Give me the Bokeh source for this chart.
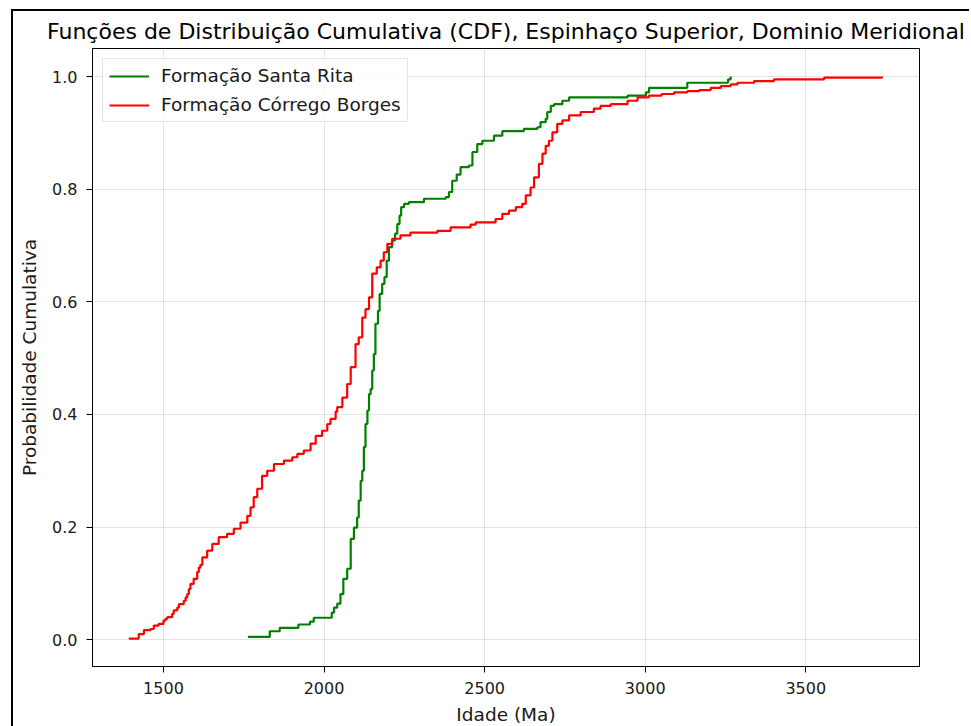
from bokeh.plotting import figure
from bokeh.models import Range1d, FixedTicker, PrintfTickFormatter
from bokeh.embed import file_html
from bokeh.resources import INLINE

title_text = "Funções de Distribuição Cumulativa (CDF), Espinhaço Superior, Dominio Meridional"
x_label = "Idade (Ma)"
y_label = "Probabilidade Cumulativa"
x_ticks = [1500, 2000, 2500, 3000, 3500]
y_ticks = [0.0, 0.2, 0.4, 0.6, 0.8, 1.0]

label_sr = "Formação Santa Rita"
ages_sr = [1763, 1831, 1862, 1920, 1956, 1968, 2024, 2031, 2041, 2051,
           2060, 2072, 2083, 2093, 2103, 2108, 2114, 2119, 2124, 2129,
           2135, 2140, 2145, 2150, 2155, 2160, 2168, 2173, 2181, 2188,
           2195, 2202, 2212, 2221, 2228, 2235, 2240, 2249, 2264, 2311,
           2379, 2389, 2399, 2413, 2425, 2451, 2462, 2477, 2493, 2529,
           2555, 2622, 2664, 2674, 2690, 2695, 2706, 2716, 2742, 2763,
           2945, 3002, 3012, 3131, 3258, 3266]
cdf_sr = [0.005, 0.015, 0.021, 0.027, 0.032, 0.039, 0.048, 0.057, 0.064, 0.081,
          0.108, 0.126, 0.179, 0.199, 0.217, 0.247, 0.282, 0.300, 0.342, 0.383,
          0.407, 0.436, 0.445, 0.478, 0.507, 0.561, 0.584, 0.614, 0.632, 0.644,
          0.673, 0.697, 0.709, 0.721, 0.738, 0.753, 0.768, 0.774, 0.777, 0.783,
          0.786, 0.795, 0.815, 0.826, 0.839, 0.842, 0.866, 0.880, 0.886, 0.895,
          0.903, 0.907, 0.910, 0.919, 0.925, 0.937, 0.948, 0.951, 0.957, 0.963,
          0.966, 0.972, 0.980, 0.989, 0.995, 1.0]

label_cb = "Formação Córrego Borges"
ages_cb = [1392, 1423, 1439, 1460, 1470, 1485, 1500, 1506, 1512, 1527,
           1532, 1543, 1548, 1563, 1569, 1574, 1579, 1584, 1594, 1605,
           1610, 1615, 1621, 1636, 1652, 1672, 1698, 1719, 1740, 1761,
           1771, 1781, 1792, 1807, 1823, 1844, 1875, 1901, 1917, 1937,
           1958, 1974, 1994, 2010, 2020, 2036, 2041, 2057, 2072, 2083,
           2098, 2108, 2119, 2129, 2140, 2150, 2164, 2176, 2186, 2197,
           2212, 2238, 2269, 2353, 2394, 2456, 2472, 2534, 2555, 2576,
           2597, 2617, 2628, 2643, 2654, 2669, 2680, 2690, 2700, 2711,
           2726, 2742, 2763, 2799, 2840, 2861, 2893, 2945, 2976, 3011,
           3051, 3090, 3131, 3168, 3204, 3235, 3266, 3287, 3339, 3401,
           3557, 3737]
cdf_cb = [0.002, 0.010, 0.017, 0.019, 0.025, 0.028, 0.034, 0.037, 0.040, 0.046,
          0.052, 0.057, 0.063, 0.069, 0.075, 0.081, 0.090, 0.099, 0.108, 0.120,
          0.128, 0.133, 0.146, 0.158, 0.170, 0.182, 0.188, 0.197, 0.208, 0.220,
          0.235, 0.253, 0.268, 0.291, 0.300, 0.312, 0.318, 0.324, 0.330, 0.336,
          0.348, 0.362, 0.371, 0.383, 0.392, 0.405, 0.413, 0.430, 0.454, 0.484,
          0.525, 0.537, 0.572, 0.587, 0.608, 0.650, 0.661, 0.673, 0.688, 0.703,
          0.712, 0.718, 0.723, 0.726, 0.732, 0.737, 0.741, 0.747, 0.756, 0.762,
          0.768, 0.774, 0.789, 0.803, 0.821, 0.845, 0.863, 0.877, 0.886, 0.901,
          0.916, 0.922, 0.931, 0.937, 0.943, 0.948, 0.951, 0.957, 0.963, 0.966,
          0.969, 0.972, 0.974, 0.976, 0.980, 0.983, 0.986, 0.989, 0.992, 0.995,
          0.998, 1.0]

FONT = "DejaVu Sans"

p = figure(
    frame_width=827, frame_height=618,
    min_border_left=79, min_border_top=37, min_border_right=50, min_border_bottom=58,
    x_range=Range1d(1279, 3854), y_range=Range1d(-0.0476, 1.0498),
    output_backend="svg", toolbar_location=None,
)
p.styles = {"border-left": "2px solid black", "border-top": "2px solid black",
            "margin-left": "11px", "margin-top": "9px"}

p.title.text = title_text
p.title.align = "center"
p.title.text_font = FONT
p.title.text_font_size = "22px"
p.title.text_font_style = "normal"
p.title.text_color = "black"

p.step(ages_sr, cdf_sr, mode="after", line_color="green", line_width=2.2, legend_label=label_sr)
p.step(ages_cb, cdf_cb, mode="after", line_color="red", line_width=2.2, legend_label=label_cb)

p.xaxis.ticker = FixedTicker(ticks=x_ticks)
p.yaxis.ticker = FixedTicker(ticks=y_ticks)
p.yaxis.formatter = PrintfTickFormatter(format="%.1f")
p.xaxis.axis_label = x_label
p.yaxis.axis_label = y_label
for ax in (p.xaxis, p.yaxis):
    ax.major_tick_out = 6
    ax.major_tick_in = 0
    ax.minor_tick_line_color = None
    ax.axis_line_color = "black"
    ax.major_tick_line_color = "black"
    ax.major_label_text_font = FONT
    ax.major_label_text_font_size = "16px"
    ax.major_label_text_color = "#1a1a1a"
    ax.major_label_standoff = 9
    ax.axis_label_text_font = FONT
    ax.axis_label_text_font_size = "18.5px"
    ax.axis_label_text_font_style = "normal"
    ax.axis_label_text_color = "#1a1a1a"
p.xaxis.axis_label_standoff = 7
p.yaxis.axis_label_standoff = 9

p.outline_line_color = "black"
p.outline_line_alpha = 1
p.outline_line_width = 1
p.grid.grid_line_color = "#b0b0b0"
p.grid.grid_line_alpha = 0.35

lg = p.legend[0]
lg.location = "top_left"
lg.margin = 10
lg.padding = 6
lg.spacing = 8
lg.glyph_width = 40
lg.glyph_height = 20
lg.label_height = 20
lg.label_standoff = 12
lg.label_text_font = FONT
lg.label_text_font_size = "18.5px"
lg.label_text_color = "#1a1a1a"
lg.border_line_color = "#cccccc"
lg.border_line_width = 1
lg.background_fill_alpha = 0.8

open("out.html", "w").write(file_html(p, INLINE))
